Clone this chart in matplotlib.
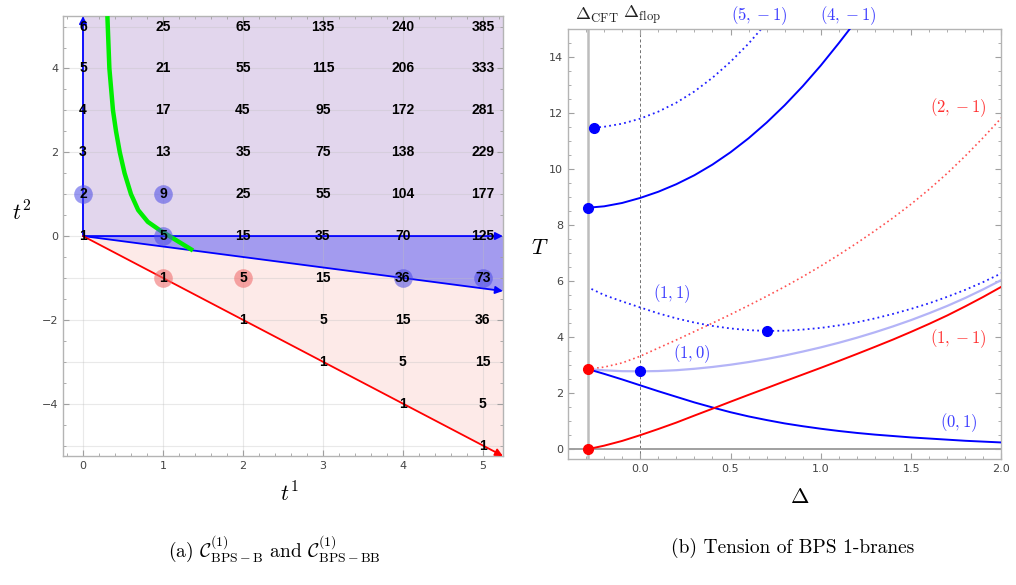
import matplotlib.pyplot as plt
from matplotlib.ticker import MultipleLocator

plt.rcParams['mathtext.fontset'] = 'cm'

# ---------------- panel (a): lattice of invariants ----------------
t1_cols = [0, 1, 2, 3, 4, 5]
t2_rows = [5, 4, 3, 2, 1, 0, -1, -2, -3, -4, -5]
counts = [
    [6, 25, 65, 135, 240, 385],
    [5, 21, 55, 115, 206, 333],
    [4, 17, 45, 95, 172, 281],
    [3, 13, 35, 75, 138, 229],
    [2, 9, 25, 55, 104, 177],
    [1, 5, 15, 35, 70, 125],
    [None, 1, 5, 15, 36, 73],
    [None, None, 1, 5, 15, 36],
    [None, None, None, 1, 5, 15],
    [None, None, None, None, 1, 5],
    [None, None, None, None, None, 1],
]
blue_marked_t1 = [0, 1, 1, 4, 5]
blue_marked_t2 = [1, 1, 0, -1, -1]
red_marked_t1 = [1, 2]
red_marked_t2 = [-1, -1]

# cone boundaries (slopes of t2/t1)
blue_slope = -0.25
red_slope = -1.0

# green wall curve
green_t1 = [0.305, 0.33, 0.375, 0.413, 0.46, 0.52, 0.60, 0.69, 0.81, 0.96, 1.08, 1.375]
green_t2 = [5.25, 4.0, 3.0, 2.5, 2.0, 1.5, 1.0, 0.62, 0.34, 0.14, 0.0, -0.345]

# ---------------- panel (b): tensions ----------------
delta_cft = -0.29
delta_flop = 0.0

d_full = [-0.29, -0.2, -0.1, 0.0, 0.1, 0.2, 0.3, 0.4, 0.5, 0.6, 0.7, 0.8,
          0.9, 1.0, 1.1, 1.2, 1.3, 1.4, 1.5, 1.6, 1.7, 1.8, 1.9, 2.0]
T_10 = [2.86, 2.815, 2.785, 2.78, 2.79, 2.82, 2.87, 2.935, 3.015, 3.11, 3.22, 3.345,
        3.485, 3.635, 3.80, 3.98, 4.175, 4.385, 4.61, 4.855, 5.115, 5.40, 5.71, 6.04]
T_01 = [2.86, 2.69, 2.49, 2.28, 2.07, 1.87, 1.67, 1.49, 1.32, 1.17, 1.04, 0.92,
        0.82, 0.73, 0.65, 0.58, 0.52, 0.47, 0.42, 0.38, 0.34, 0.30, 0.27, 0.24]
T_1m1 = [0.0, 0.125, 0.295, 0.50, 0.72, 0.95, 1.20, 1.445, 1.695, 1.94, 2.18, 2.425,
         2.665, 2.905, 3.15, 3.40, 3.655, 3.915, 4.19, 4.475, 4.775, 5.10, 5.44, 5.80]
T_2m1 = [2.86, 2.93, 3.08, 3.32, 3.61, 3.90, 4.20, 4.50, 4.81, 5.13, 5.46, 5.80,
         6.16, 6.54, 6.94, 7.36, 7.80, 8.26, 8.75, 9.28, 9.85, 10.47, 11.13, 11.83]

d_11 = [-0.27, -0.2, -0.1, 0.0, 0.1, 0.2, 0.3, 0.4, 0.5, 0.6, 0.7, 0.8,
        0.9, 1.0, 1.1, 1.2, 1.3, 1.4, 1.5, 1.6, 1.7, 1.8, 1.9, 2.0]
T_11 = [5.72, 5.505, 5.275, 5.06, 4.85, 4.67, 4.52, 4.40, 4.31, 4.25, 4.22, 4.23,
        4.27, 4.33, 4.42, 4.53, 4.67, 4.83, 5.01, 5.21, 5.44, 5.69, 5.97, 6.28]

d_4m1 = [-0.29, -0.2, -0.1, 0.0, 0.1, 0.2, 0.3, 0.4, 0.5, 0.6, 0.7, 0.8, 0.9, 1.0, 1.1, 1.16]
T_4m1 = [8.62, 8.67, 8.79, 8.97, 9.19, 9.46, 9.78, 10.16, 10.60, 11.10, 11.66,
         12.28, 12.96, 13.70, 14.50, 15.0]

d_5m1 = [-0.255, -0.2, -0.1, 0.0, 0.1, 0.2, 0.3, 0.4, 0.5, 0.6, 0.67]
T_5m1 = [11.48, 11.51, 11.62, 11.80, 12.05, 12.37, 12.77, 13.26, 13.83, 14.48, 15.0]

blue_dots_d = [-0.29, -0.255, 0.0, 0.7]
blue_dots_T = [8.62, 11.48, 2.78, 4.22]
red_dots_d = [-0.29, -0.29]
red_dots_T = [2.86, 0.0]

fig = plt.figure(figsize=(10.16, 5.85), dpi=100)
ax1 = fig.add_axes([0.062, 0.2205, 0.433, 0.752])
ax2 = fig.add_axes([0.559, 0.2154, 0.4267, 0.735])

spine_c = '#b4b4b4'
tick_c = '#444444'

# ---------- panel (a) ----------
xmax, ymax = 5.25, 5.25
ax1.set_xlim(-0.25, xmax)
ax1.set_ylim(-ymax, ymax)

ax1.fill_between([0, xmax], 0, ymax, color='#e2d6ed', lw=0, zorder=1)
ax1.fill_between([0, xmax], [0, blue_slope * xmax], 0, color='#a39bef', lw=0, zorder=1)
ax1.fill_between([0, xmax], [0, red_slope * xmax], [0, blue_slope * xmax],
                 color='#fdeae8', lw=0, zorder=1)

for x in t1_cols:
    ax1.axvline(x, color='#c0c0c0', alpha=0.35, lw=0.8, zorder=1.5)
for y in t2_rows:
    ax1.axhline(y, color='#c0c0c0', alpha=0.35, lw=0.8, zorder=1.5)

arrow = dict(arrowstyle='-|>', lw=1.3, mutation_scale=11, shrinkA=0, shrinkB=0)
ax1.annotate('', xy=(0, ymax), xytext=(0, 0), arrowprops=dict(arrow, color='#0000ff'), zorder=4)
ax1.annotate('', xy=(xmax, 0), xytext=(0, 0), arrowprops=dict(arrow, color='#0000ff'), zorder=4)
ax1.annotate('', xy=(xmax, blue_slope * xmax), xytext=(0, 0),
             arrowprops=dict(arrow, color='#0000ff'), zorder=4)
ax1.annotate('', xy=(xmax, red_slope * xmax), xytext=(0, 0),
             arrowprops=dict(arrow, color='#ff0000'), zorder=4)

ax1.plot(green_t1, green_t2, color='#00ee00', lw=3.2, zorder=4.5, solid_capstyle='butt')

ax1.scatter(blue_marked_t1, blue_marked_t2, s=180, color='#4a4ae6', alpha=0.55, lw=0, zorder=5)
ax1.scatter(red_marked_t1, red_marked_t2, s=180, color='#f07070', alpha=0.6, lw=0, zorder=5)

for row, t2 in zip(counts, t2_rows):
    for val, t1 in zip(row, t1_cols):
        if val is None:
            continue
        ax1.text(t1, t2, str(val), ha='center', va='center', fontsize=10,
                 fontweight='bold', family='Liberation Sans', color='black', zorder=6)

ax1.set_xticks(t1_cols)
ax1.set_yticks([-4, -2, 0, 2, 4])
ax1.xaxis.set_minor_locator(MultipleLocator(0.2))
ax1.yaxis.set_minor_locator(MultipleLocator(0.5))

# ---------- panel (b) ----------
ax2.set_xlim(-0.4, 2.0)
ax2.set_ylim(-0.35, 15)

ax2.axvline(delta_cft, color='#bdbdbd', lw=1.8, zorder=1)
ax2.axvline(delta_flop, color='#707070', lw=0.7, dashes=(3, 2.5), zorder=1)
ax2.axhline(0, color='#999999', lw=1.3, zorder=1)

dots = (0, (1, 1.8))
ax2.plot(d_full, T_2m1, color='#ff5050', lw=1.2, ls=dots, zorder=2)
ax2.plot(d_11, T_11, color='#2020ff', lw=1.3, ls=dots, zorder=2)
ax2.plot(d_5m1, T_5m1, color='#2020ff', lw=1.3, ls=dots, zorder=2)
ax2.plot(d_full, T_10, color='#b4b4f7', lw=1.6, zorder=2)
ax2.plot(d_full, T_01, color='#0000ff', lw=1.4, zorder=3)
ax2.plot(d_full, T_1m1, color='#ff0000', lw=1.4, zorder=3)
ax2.plot(d_4m1, T_4m1, color='#0000ff', lw=1.4, zorder=3)

ax2.plot(blue_dots_d, blue_dots_T, 'o', color='#0000ff', ms=7, zorder=5)
ax2.plot(red_dots_d, red_dots_T, 'o', color='#ff0000', ms=7, zorder=5)

lab = dict(fontsize=12, ha='center', va='center', clip_on=False)
ax2.text(0.659, 15.46, r'$(5,-1)$', color='#3b3bff', **lab)
ax2.text(1.152, 15.46, r'$(4,-1)$', color='#3b3bff', **lab)
ax2.text(1.762, 12.19, r'$(2,-1)$', color='#ff3030', **lab)
ax2.text(0.177, 5.57, r'$(1,1)$', color='#3b3bff', **lab)
ax2.text(0.288, 3.40, r'$(1,0)$', color='#3b3bff', **lab)
ax2.text(1.762, 3.96, r'$(1,-1)$', color='#ff3030', **lab)
ax2.text(1.762, 0.94, r'$(0,1)$', color='#3b3bff', **lab)
ax2.text(-0.238, 15.5, r'$\Delta_{\mathrm{CFT}}$', color='#222222', fontsize=13,
         ha='center', va='center', clip_on=False)
ax2.text(0.011, 15.5, r'$\Delta_{\mathrm{flop}}$', color='#222222', fontsize=13,
         ha='center', va='center', clip_on=False)

ax2.set_xticks([0, 0.5, 1.0, 1.5, 2.0])
ax2.set_xticklabels(['0.0', '0.5', '1.0', '1.5', '2.0'])
ax2.set_yticks([0, 2, 4, 6, 8, 10, 12, 14])
ax2.xaxis.set_minor_locator(MultipleLocator(0.1))
ax2.yaxis.set_minor_locator(MultipleLocator(0.5))

for ax in (ax1, ax2):
    for s in ax.spines.values():
        s.set_color(spine_c)
        s.set_linewidth(1.0)
    ax.tick_params(which='both', direction='in', top=True, right=True,
                   color='#a0a0a0', labelcolor=tick_c, labelsize=8)
    ax.tick_params(which='major', length=4)
    ax.tick_params(which='minor', length=2)

fig.text(0.0217, 0.636, r'$t^2$', fontsize=16, ha='center', va='center')
fig.text(0.285, 0.156, r'$t^1$', fontsize=16, ha='center', va='center')
fig.text(0.5315, 0.576, r'$T$', fontsize=16, ha='center', va='center')
fig.text(0.787, 0.150, r'$\Delta$', fontsize=16, ha='center', va='center')

fig.text(0.270, 0.063,
         r'(a) $\mathcal{C}^{(1)}_{\mathrm{BPS-B}}$ and $\mathcal{C}^{(1)}_{\mathrm{BPS-BB}}$',
         family='cmr10', fontsize=14, ha='center', va='center')
fig.text(0.780, 0.063, '(b) Tension of BPS 1-branes',
         family='cmr10', fontsize=14, ha='center', va='center')

fig.savefig('out.png', dpi=100)
